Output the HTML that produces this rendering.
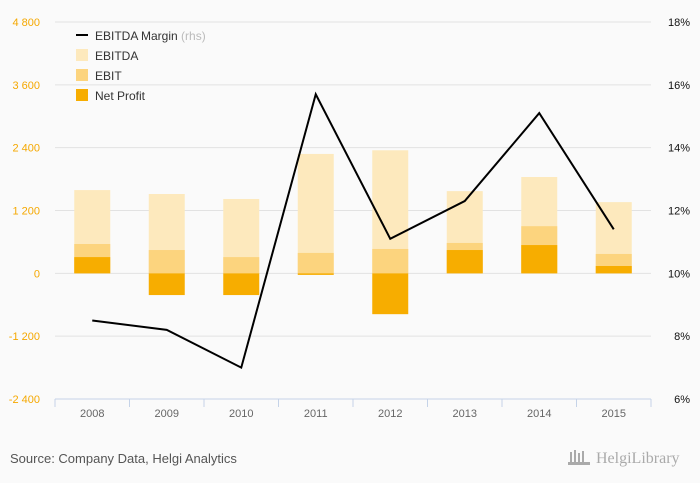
<!DOCTYPE html>
<html><head><meta charset="utf-8"><style>
html,body{margin:0;padding:0;background:#fafafa;}
svg{display:block;font-family:"Liberation Sans",sans-serif;}
</style></head><body>
<svg id="c" width="700" height="483">
<rect width="700" height="483" fill="#fafafa"/>
<g id="grid"></g><g id="bars"></g><g id="line"></g><g id="axes"></g>
<g>
<line x1="76" y1="35" x2="88" y2="35" stroke="#000" stroke-width="2"/>
<text x="95" y="40" font-size="12" fill="#333">EBITDA Margin <tspan fill="#bbb">(rhs)</tspan></text>
<rect x="76" y="49" width="12" height="12" fill="#fde9bd"/>
<text x="95" y="60" font-size="12" fill="#333">EBITDA</text>
<rect x="76" y="69" width="12" height="12" fill="#fcd47e"/>
<text x="95" y="80" font-size="12" fill="#333">EBIT</text>
<rect x="76" y="89" width="12" height="12" fill="#f7ad00"/>
<text x="95" y="100" font-size="12" fill="#333">Net Profit</text>
</g>
<text x="10" y="463" font-size="13" fill="#555">Source: Company Data, Helgi Analytics</text>
<text x="596" y="463" font-size="16" fill="#aaa" font-family="Liberation Serif, serif">HelgiLibrary</text>
<g fill="#aaa"><rect x="570" y="452" width="2" height="12"/><rect x="574" y="450" width="2" height="14"/><rect x="578" y="453" width="2" height="11"/><rect x="582" y="451" width="2" height="13"/><rect x="568" y="462" width="22" height="3"/></g>
</svg>
<script>
const categories=["2008","2009","2010","2011","2012","2013","2014","2015"];
const ebitda=[1590,1515,1420,2280,2350,1570,1840,1360];
const ebit=[560,445,310,390,465,580,900,370];
const netProfit=[310,-415,-415,-30,-780,445,540,140];
const margin=[8.5,8.2,7.0,15.7,11.1,12.3,15.1,11.4];
const leftTicks=[4800,3600,2400,1200,0,-1200,-2400];
const rightTicks=[18,16,14,12,10,8,6];
const NS="http://www.w3.org/2000/svg";
const X0=55,X1=651,Y0=22,Y1=399;
const yL=v=>Y0+(4800-v)/7200*(Y1-Y0);
const yR=v=>Y0+(18-v)/12*(Y1-Y0);
const band=(X1-X0)/categories.length;
const xC=i=>X0+band*(i+0.5);
function mk(tag,attrs,parent){const e=document.createElementNS(NS,tag);for(const k in attrs)e.setAttribute(k,attrs[k]);document.getElementById(parent).appendChild(e);return e;}
const fmt=v=>{const s=Math.abs(v).toString().replace(/\B(?=(\d{3})+(?!\d))/g," ");return (v<0?"-":"")+s;};
leftTicks.forEach((t,i)=>{
 const y=yL(t);
 if(i<leftTicks.length-1){const g=mk("line",{x1:X0,x2:X1,y1:y,y2:y,stroke:"#e2e2e2","stroke-width":1},"grid");
 
 }
 const l=mk("text",{x:40,y:y+4,"font-size":11,fill:"#f5a800","text-anchor":"end"},"axes");l.textContent=fmt(t);
 
 
});
rightTicks.forEach(t=>{
 const r=mk("text",{x:690,y:yR(t)+4,"font-size":11,fill:"#111","text-anchor":"end"},"axes");r.textContent=t+"%";
 
 
});
const ax=mk("line",{x1:X0,x2:X1,y1:Y1,y2:Y1,stroke:"#c5d3e8","stroke-width":1},"axes");


for(let i=0;i<=categories.length;i++){const x=X0+band*i;const tk=mk("line",{x1:x,x2:x,y1:Y1,y2:Y1+8,stroke:"#c5d3e8"},"axes");
 
 }
const bw=36;
categories.forEach((c,i)=>{
 const t=mk("text",{x:xC(i),y:417,"font-size":11,fill:"#666","text-anchor":"middle"},"axes");t.textContent=c;
 
 
 [[ebitda,"#fde9bd","ebitda"],[ebit,"#fcd47e","ebit"],[netProfit,"#f7ad00","net-profit"]].forEach(([arr,col,n])=>{
  const v=arr[i],y=Math.min(yL(v),yL(0)),h=Math.abs(yL(v)-yL(0));
  const b=mk("rect",{x:xC(i)-bw/2,y:y,width:bw,height:h,fill:col},"bars");
  
  
 });
});
const p=mk("polyline",{points:margin.map((m,i)=>xC(i)+","+yR(m)).join(" "),fill:"none",stroke:"#000","stroke-width":2},"line");


</script>
</body></html>
